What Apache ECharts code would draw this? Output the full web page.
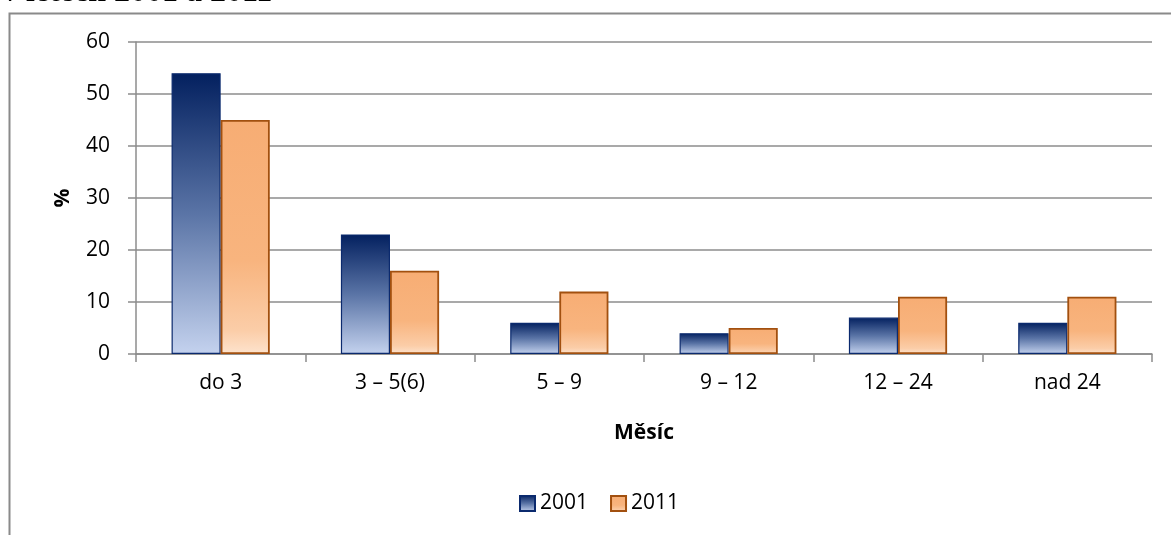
<!DOCTYPE html>
<html>
<head>
<meta charset="utf-8">
<script src="https://cdn.jsdelivr.net/npm/echarts@6/dist/echarts.min.js"></script>
<style>
  html, body { margin: 0; padding: 0; background: #fff; }
  #chart { width: 1171px; height: 535px; }
</style>
</head>
<body>
<div id="chart"></div>
<script>
// Duration categories (months) and shares (%) for the two census years
const categories = ['do 3', '3 – 5(6)', '5 – 9', '9 – 12', '12 – 24', 'nad 24'];
const values2001 = [54, 23, 6, 4, 7, 6];
const values2011 = [45, 16, 12, 5, 11, 11];
const seriesNames = ['2001', '2011'];
const yTicks = { min: 0, max: 60, interval: 10 };

const chart = echarts.init(document.getElementById('chart'), null, { renderer: 'canvas' });

const FONT = '"Open Sans", Lato, sans-serif';
const FS = 21;

const blueFill = new echarts.graphic.LinearGradient(0, 0, 0, 1, [
  { offset: 0, color: '#03205f' },
  { offset: 0.5, color: '#5a74a6' },
  { offset: 1, color: '#c4d2ee' }
]);
const orangeFill = new echarts.graphic.LinearGradient(0, 0, 0, 1, [
  { offset: 0, color: '#f7ad74' },
  { offset: 0.6, color: '#f8b47e' },
  { offset: 0.9, color: '#fbcda8' },
  { offset: 1, color: '#fde3cd' }
]);

chart.setOption({
  animation: false,
  graphic: [
    {
      type: 'text',
      left: 2,
      top: -23,
      style: {
        text: 'v letech 2001 a 2011',
        font: 'bold 32px "Liberation Serif", "DejaVu Serif", serif',
        fill: '#000'
      }
    },
    {
      type: 'rect',
      shape: { x: 9.5, y: 13.5, width: 1200, height: 600 },
      style: { fill: 'none', stroke: '#8a8a8a', lineWidth: 2 },
      z: -1
    }
  ],
  grid: { left: 136, right: 19, top: 42, bottom: 181 },
  legend: {
    bottom: 16,
    left: 514,
    itemWidth: 15,
    itemHeight: 15,
    itemGap: 22,
    icon: 'rect',
    textStyle: { fontFamily: FONT, fontSize: FS, color: '#000', padding: [0, 0, 0, 0] },
    data: seriesNames
  },
  xAxis: {
    type: 'category',
    data: categories,
    name: 'Měsíc',
    nameLocation: 'middle',
    nameGap: 69,
    nameTextStyle: { fontFamily: FONT, fontSize: FS, fontWeight: 'bold', color: '#000' },
    axisLine: { lineStyle: { color: '#8c8c8c', width: 1.5 } },
    axisTick: { show: true, length: 8, lineStyle: { color: '#8c8c8c', width: 1.5 } },
    axisLabel: { fontFamily: FONT, fontSize: FS, color: '#000', margin: 19 }
  },
  yAxis: {
    type: 'value',
    min: yTicks.min,
    max: yTicks.max,
    interval: yTicks.interval,
    name: '%',
    nameLocation: 'middle',
    nameRotate: 90,
    nameGap: 62,
    nameTextStyle: { fontFamily: FONT, fontSize: FS, fontWeight: 'bold', color: '#000' },
    axisLine: { show: true, lineStyle: { color: '#8c8c8c', width: 1.5 } },
    axisTick: { show: true, length: 8, lineStyle: { color: '#8c8c8c', width: 1.5 } },
    axisLabel: { fontFamily: FONT, fontSize: FS, color: '#000', margin: 26 },
    splitLine: { show: true, lineStyle: { color: '#8c8c8c', width: 1.5 } }
  },
  series: [
    {
      name: seriesNames[0],
      type: 'bar',
      data: values2001,
      barWidth: '29%',
      barGap: '0%',
      itemStyle: { color: blueFill, borderColor: '#0b2a6e', borderWidth: 1.2 }
    },
    {
      name: seriesNames[1],
      type: 'bar',
      data: values2011,
      barWidth: '29%',
      barGap: '0%',
      itemStyle: { color: orangeFill, borderColor: '#a2500f', borderWidth: 1.8 }
    }
  ]
});
</script>
</body>
</html>
